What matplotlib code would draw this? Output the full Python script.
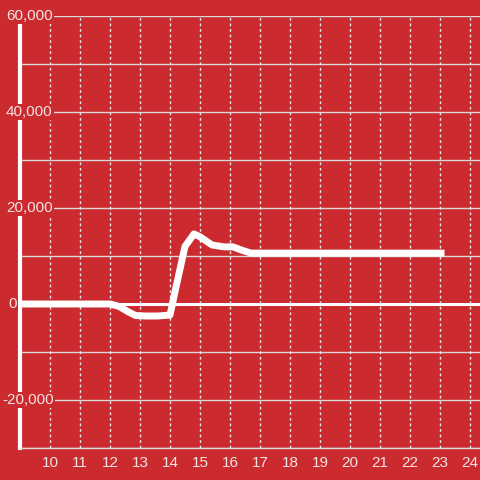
import matplotlib
matplotlib.use("Agg")
import matplotlib.pyplot as plt
from matplotlib.transforms import blended_transform_factory

# data
hours = [9, 10, 11, 12.0, 12.3, 12.6, 12.85, 13.2, 13.6, 14.0, 14.2, 14.5, 14.8,
         15.0, 15.4, 15.8, 16.1, 16.4, 16.7, 17, 18, 19, 20, 21, 22, 23.15]
values = [0, 0, 0, 0, -500, -1600, -2400, -2500, -2500, -2300, 3500, 12000, 14600,
          14000, 12300, 11900, 11900, 11200, 10600, 10600, 10600, 10600, 10600,
          10600, 10600, 10600]
x_ticks = list(range(10, 25))
y_labels = [60000, 40000, 20000, 0, -20000]
y_grid = list(range(-30000, 60001, 10000))

bg = "#cb2a2f"
fg = "#f2e4e4"

fig = plt.figure(figsize=(4.8, 4.8), dpi=100)
fig.patch.set_facecolor(bg)
ax = fig.add_axes([20 / 480, 32 / 480, 460 / 480, 432 / 480])
ax.set_facecolor(bg)
ax.set_xlim(9, 9 + 460 / 30)
ax.set_ylim(-30000, 60000)

# grid
for y in y_grid:
    if y != 0:
        ax.axhline(y, color="#d8d8d8", lw=1, zorder=1)
for x in x_ticks:
    ax.axvline(x, color="#e8e8e8", lw=1, ls=(0, (2, 2)), zorder=1)
ax.axhline(0, color="white", lw=2.2, zorder=2)

ax.plot(hours, values, color="white", lw=5, solid_capstyle="butt",
        solid_joinstyle="round", zorder=3)

for sp in ["top", "right"]:
    ax.spines[sp].set_visible(False)
ax.spines["bottom"].set_color("#d8d8d8")
ax.spines["bottom"].set_linewidth(1)
ax.spines["left"].set_color("white")
ax.spines["left"].set_linewidth(3)
ax.spines["left"].set_bounds(-30000, 58300)
ax.spines["left"].set_zorder(2)

ax.set_yticks([])
ax.set_xticks(x_ticks)
ax.set_xticklabels([str(t) for t in x_ticks], fontsize=11, color=fg,
                   family="Liberation Sans")
ax.tick_params(axis="x", length=0, pad=6)

trans = blended_transform_factory(fig.transFigure, ax.transData)
for y in y_labels:
    x0 = 2 / 480 if y < 0 else (8 / 480 if y == 0 else 6 / 480)
    ax.text(x0, y, f"{y:,}", ha="left", va="center", fontsize=11,
            color=fg, family="Liberation Sans", zorder=4, clip_on=False,
            transform=trans,
            bbox=dict(facecolor=bg, edgecolor="none", pad=1))

fig.savefig("out.png", dpi=100, facecolor=bg)
